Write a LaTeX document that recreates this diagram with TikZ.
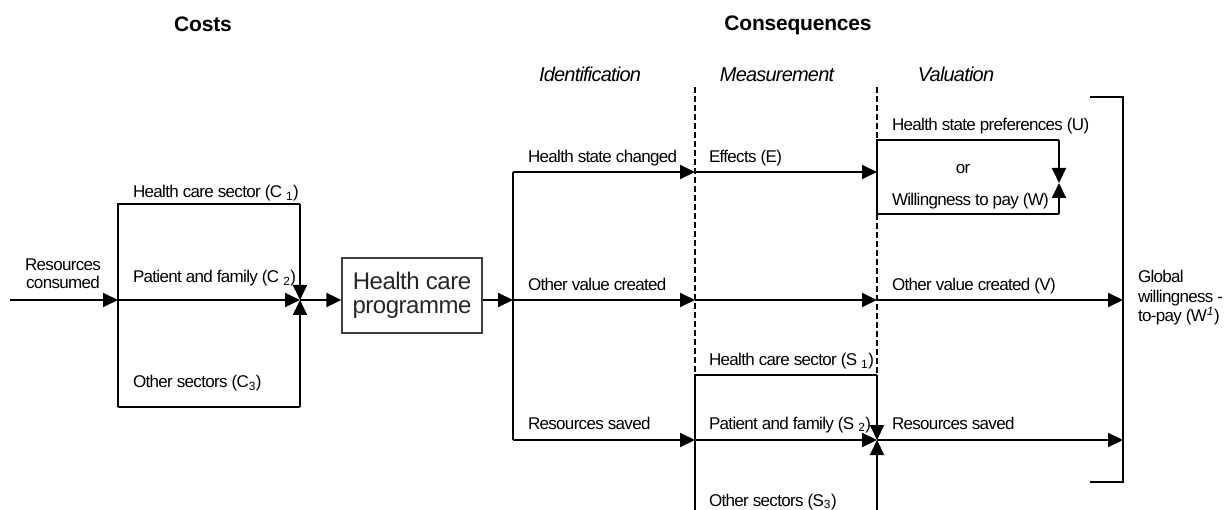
\documentclass[tikz,border=0pt]{standalone}
\usepackage{fontspec}
\setmainfont{Liberation Sans}
\newfontfamily\lblfont[LetterSpace=-4]{Liberation Sans}
\newfontfamily\boxfont[LetterSpace=-2]{Liberation Sans}
\newfontfamily\headfont[LetterSpace=-1]{Liberation Sans}
\usetikzlibrary{arrows.meta}
\begin{document}
\begin{tikzpicture}[x=1pt,y=-1pt,
  line width=2pt,
  arr/.style={-{Triangle[length=15pt,width=14pt]}},
  dsh/.style={line width=1.3pt,dash pattern=on 6pt off 3pt},
  lbl/.style={font=\lblfont\fontsize{17}{19}\selectfont,inner sep=0pt,anchor=base west},
  hd/.style={font=\headfont\fontsize{21}{24}\selectfont\bfseries,inner sep=0pt,anchor=base},
  ihd/.style={font=\lblfont\fontsize{20}{24}\selectfont\itshape,inner sep=0pt,anchor=base},
  prog/.style={draw=black!75,line width=1.3pt,minimum width=140pt,minimum height=75pt,inner sep=0pt,align=center,text=black!85,font=\boxfont\fontsize{24}{28}\selectfont}
]
\useasboundingbox (0,0) rectangle (1226,510);

% headings
\node[hd] (costs) at (203,32) {Costs};
\node[hd] (conseq) at (798,31) {Consequences};
\node[ihd] (ident) at (590,82) {Identification};
\node[ihd] (meas) at (777,82) {Measurement};
\node[ihd] (valu) at (956,82) {Valuation};

% coordinates
\coordinate (cin) at (10,300);
\coordinate (cbl) at (118,300);
\coordinate (cbt) at (118,204);
\coordinate (cbb) at (118,407);
\coordinate (ctr) at (300,204);
\coordinate (cbr) at (300,407);
\coordinate (cj) at (300,300);
\coordinate (jt) at (513,172);
\coordinate (jm) at (513,300);
\coordinate (jb) at (513,440);
\coordinate (d1t) at (695,87);
\coordinate (d1h) at (695,172);
\coordinate (d1m) at (695,300);
\coordinate (d1s) at (695,375);
\coordinate (d1r) at (695,440);
\coordinate (d1e) at (695,514);
\coordinate (d2t) at (877,87);
\coordinate (d2h) at (877,172);
\coordinate (vbt) at (877,140);
\coordinate (vbb) at (877,214);
\coordinate (d2m) at (877,300);
\coordinate (d2s) at (877,375);
\coordinate (d2r) at (877,440);
\coordinate (d2e) at (877,514);
\coordinate (vtr) at (1059,140);
\coordinate (vbr) at (1059,214);
\coordinate (vj) at (1059,183);
\coordinate (bt1) at (1090,97);
\coordinate (bt2) at (1123,97);
\coordinate (bb2) at (1123,482);
\coordinate (bb1) at (1090,482);
\coordinate (bm) at (1123,300);
\coordinate (br) at (1123,440);

% programme box
\node[prog] (hcp) at (412,295.5) {Health care\\[-4pt]programme};

% costs part
\draw[arr] (cin) -- (cbl);
\draw[arr] (cbl) -- (cj);
\draw (cbb) -- (cbt) -- (ctr);
\draw[arr] (ctr) -- (cj);
\draw (cbb) -- (cbr);
\draw[arr] (cbr) -- (cj);
\draw[arr] (cj) -- (cj -| hcp.west);
\draw[arr] (jm -| hcp.east) -- (jm);

% consequences
\draw (jt) -- (jb);
\draw[arr] (jt) -- (d1h);
\draw[arr] (d1h) -- (d2h);
\draw[arr] (jm) -- (d1m);
\draw[arr] (d1m) -- (d2m);
\draw[arr] (d2m) -- (bm);
\draw[arr] (jb) -- (d1r);
\draw[arr] (d1r) -- (d2r);
\draw[arr] (d2r) -- (br);

% dashed separators
\draw[dsh] (d1t) -- (d1s);
\draw[dsh] (d2t) -- (vbt);
\draw[dsh] (vbb) -- (d2s);

% savings box
\draw (d1e) -- (d1s) -- (d2s);
\draw[arr] (d2s) -- (d2r);
\draw[arr] (d2e) -- (d2r);

% valuation box
\draw (vbb) -- (vbt) -- (vtr);
\draw[arr] (vtr) -- (vj);
\draw (vbb) -- (vbr);
\draw[arr] (vbr) -- (vj);

% bracket
\draw (bt1) -- (bt2) -- (bb2) -- (bb1);

% labels
\node[font=\lblfont\fontsize{17}{18}\selectfont,inner sep=0pt,align=center] (rescons) at (63,274) {Resources\\consumed};
\node[lbl] (c1) at (132,198) {Health care sector (C~\textsubscript{1})};
\node[lbl] (c2) at (132,283) {Patient and family (C~\textsubscript{2})};
\node[lbl] (c3) at (132,388) {Other sectors (C\textsubscript{3})};
\node[lbl] (hsc) at (527,163) {Health state changed};
\node[lbl] (ovc) at (527,291) {Other value created};
\node[lbl] (rs1) at (527,429) {Resources saved};
\node[lbl] (eff) at (708,163) {Effects (E)};
\node[lbl] (s1) at (708,366) {Health care sector (S~\textsubscript{1})};
\node[lbl] (s2) at (708,429) {Patient and family (S~\textsubscript{2})};
\node[lbl] (s3) at (708,506) {Other sectors (S\textsubscript{3})};
\node[lbl] (hsp) at (891,131) {Health state preferences (U)};
\node[lbl,anchor=base] (or) at (963,174) {or};
\node[lbl] (wtp) at (891,206) {Willingness to pay (W)};
\node[lbl] (ovcv) at (891,291) {Other value created (V)};
\node[lbl] (rs2) at (891,429) {Resources saved};
\node[font=\lblfont\fontsize{17}{19.5}\selectfont,inner sep=0pt,align=left,anchor=west] (gwtp) at (1137,298) {Global\\willingness -\\to-pay (W\textsuperscript{\itshape 1})};
\end{tikzpicture}
\end{document}
